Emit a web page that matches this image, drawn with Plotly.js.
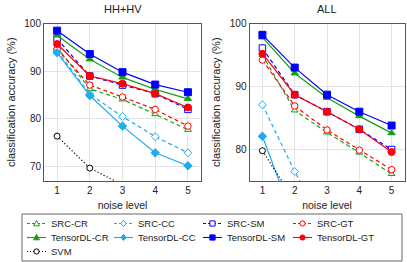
<!DOCTYPE html>
<html>
<head>
<meta charset="utf-8">
<script src="https://cdn.plot.ly/plotly-3.0.1.min.js"></script>
<style>html,body{margin:0;padding:0;background:#fff;}#chart{width:407px;height:262px;}</style>
</head>
<body>
<div id="chart"></div>
<script>
// ---- data ----
const noise = [1, 2, 3, 4, 5];
const seriesNames = ["SRC-CR", "SRC-CC", "SRC-SM", "SRC-GT", "TensorDL-CR", "TensorDL-CC", "TensorDL-SM", "TensorDL-GT", "SVM"];
// HH+HV panel
const srcCR_hh = [95.0, 86.3, 84.1, 81.0, 77.7];
const srcCC_hh = [94.3, 85.2, 80.5, 76.3, 72.9];
const srcSM_hh = [96.8, 89.0, 87.1, 85.3, 82.0];
const srcGT_hh = [94.6, 87.1, 84.6, 82.0, 78.5];
const tdlCR_hh = [97.5, 92.5, 88.7, 86.2, 84.2];
const tdlCC_hh = [93.9, 84.9, 78.5, 72.9, 70.2];
const tdlSM_hh = [98.5, 93.6, 89.8, 87.2, 85.6];
const tdlGT_hh = [95.7, 89.0, 87.4, 85.3, 82.4];
const svm_hh   = [76.4, 69.7, 66.2, 63.5, 61.0];
// ALL panel
const srcCR_all = [95.0, 86.2, 82.7, 79.5, 76.1];
const srcCC_all = [87.1, 76.5, 67.0, 63.0, 60.0];
const srcSM_all = [96.1, 88.7, 86.0, 83.2, 80.0];
const srcGT_all = [94.2, 86.9, 83.1, 79.9, 76.8];
const tdlCR_all = [97.8, 92.1, 88.2, 85.3, 82.6];
const tdlCC_all = [82.1, 68.4, 63.0, 58.0, 55.0];
const tdlSM_all = [98.2, 93.0, 88.7, 86.0, 83.8];
const tdlGT_all = [95.2, 88.7, 86.0, 83.2, 79.6];
const svm_all   = [79.8, 71.8, 67.0, 63.0, 60.0];

const hhData  = [srcCR_hh, srcCC_hh, srcSM_hh, srcGT_hh, tdlCR_hh, tdlCC_hh, tdlSM_hh, tdlGT_hh, svm_hh];
const allData = [srcCR_all, srcCC_all, srcSM_all, srcGT_all, tdlCR_all, tdlCC_all, tdlSM_all, tdlGT_all, svm_all];

// ---- styles ----
const GREEN = "#14a014", CYAN = "#22aaee", BLUE = "#0000ff", RED = "#ff0000", BLACK = "#000000";
const colors  = [GREEN, CYAN, BLUE, RED, GREEN, CYAN, BLUE, RED, BLACK];
const symbols = ["triangle-up", "diamond", "square", "circle", "triangle-up", "diamond", "square", "circle", "circle"];
const filled  = [false, false, false, false, true, true, true, true, false];
const dashes  = ["4px,3px", "4px,3px", "4px,3px", "4px,3px", "solid", "solid", "solid", "solid", "1.2px,2.2px"];
const sizes   = [6, 6, 6.5, 6.5, 6.5, 6.5, 7, 7, 6];

const FONT = "Liberation Sans, Arial, sans-serif";
const traces = [];
function addPanel(data, xa, ya) {
  data.forEach((ys, i) => {
    traces.push({
      x: noise, y: ys, xaxis: xa, yaxis: ya, type: "scatter", mode: "lines+markers",
      name: seriesNames[i], showlegend: false, cliponaxis: true,
      line: {color: colors[i], width: 1.2, dash: dashes[i]},
      marker: {symbol: symbols[i], size: sizes[i], color: filled[i] ? colors[i] : "#ffffff",
               line: {color: colors[i], width: 1}}
    });
  });
}
addPanel(hhData, "x", "y");
addPanel(allData, "x2", "y2");

// ---- custom legend (decoration) ----
const W = 407, H = 262;
const px = v => v / W, py = v => 1 - v / H;
const shapes = [{type: "rect", xref: "paper", yref: "paper", x0: px(22), x1: px(402), y0: py(214), y1: py(261),
                 line: {color: "#666", width: 1}, fillcolor: "rgba(0,0,0,0)"}];
const annotations = [];
const colX = [49, 136, 225, 315];
const rowY = [223.5, 237.5, 251.5];
seriesNames.forEach((nm, i) => {
  const tx = colX[i % 4], cy = rowY[Math.floor(i / 4)];
  const dashMap = {"4px,3px": "dash", "solid": "solid", "1.2px,2.2px": "dot"};
  shapes.push({type: "line", xref: "paper", yref: "paper", x0: px(tx - 22), x1: px(tx - 3), y0: py(cy), y1: py(cy),
               line: {color: colors[i], width: 1.1, dash: dashMap[dashes[i]] === "dash" ? "3px,2px" : (dashMap[dashes[i]] === "dot" ? "1px,2px" : "solid")}});
  const mx = tx - 12.5, r = 2.6;
  const fc = filled[i] ? colors[i] : "#ffffff";
  let shp;
  if (symbols[i] === "circle") {
    shp = {type: "circle", x0: px(mx - r), x1: px(mx + r), y0: py(cy + r), y1: py(cy - r)};
  } else if (symbols[i] === "square") {
    shp = {type: "rect", x0: px(mx - r), x1: px(mx + r), y0: py(cy + r), y1: py(cy - r)};
  } else if (symbols[i] === "diamond") {
    shp = {type: "path", path: `M${px(mx)},${py(cy - r - 0.5)} L${px(mx + r)},${py(cy)} L${px(mx)},${py(cy + r + 0.5)} L${px(mx - r)},${py(cy)} Z`};
  } else {
    shp = {type: "path", path: `M${px(mx)},${py(cy - r - 0.5)} L${px(mx + r + 0.3)},${py(cy + r - 0.3)} L${px(mx - r - 0.3)},${py(cy + r - 0.3)} Z`};
  }
  Object.assign(shp, {xref: "paper", yref: "paper", fillcolor: fc, line: {color: colors[i], width: 1}});
  shapes.push(shp);
  annotations.push({text: nm, xref: "paper", yref: "paper", x: px(tx), y: py(cy), xanchor: "left", yanchor: "middle",
                    showarrow: false, font: {family: FONT, size: 9.5, color: "#222"}});
});
// subplot titles
annotations.push({text: "HH+HV", xref: "paper", yref: "paper", x: px(122.5), y: py(8.5), xanchor: "center", yanchor: "middle",
                  showarrow: false, font: {family: FONT, size: 11, color: "#222"}});
annotations.push({text: "ALL", xref: "paper", yref: "paper", x: px(327), y: py(8.5), xanchor: "center", yanchor: "middle",
                  showarrow: false, font: {family: FONT, size: 11, color: "#222"}});

const tickFont = {family: FONT, size: 10, color: "#222"};
function xAxis(dom) {
  return {domain: dom, range: [0.6, 5.4], tickvals: noise, ticktext: noise.map(String), tickfont: tickFont,
          showgrid: true, gridcolor: "#e3e3e3", gridwidth: 1, zeroline: false,
          showline: true, mirror: true, linecolor: "#555", linewidth: 1, ticks: "", ticklen: 0,
          title: {text: "noise level", font: {family: FONT, size: 10.5, color: "#222"}, standoff: 6}, fixedrange: true};
}
function yAxis(range, tv, anchor) {
  return {domain: [0.3092, 0.9103], range: range, tickvals: tv, tickfont: tickFont, anchor: anchor,
          showgrid: true, gridcolor: "#e3e3e3", gridwidth: 1, zeroline: false,
          showline: true, mirror: true, linecolor: "#555", linewidth: 1, ticks: "", ticklen: 0,
          title: {text: "classification accuracy (%)", font: {family: FONT, size: 11, color: "#222"}, standoff: 6}, fixedrange: true};
}
const layout = {
  width: W, height: H, autosize: false, margin: {l: 0, r: 0, t: 0, b: 0},
  paper_bgcolor: "#fff", plot_bgcolor: "#fff", showlegend: false,
  xaxis: xAxis([44 / W, 201 / W]), yaxis: yAxis([67, 100], [70, 80, 90, 100], "x"),
  xaxis2: Object.assign(xAxis([249.5 / W, 404.5 / W]), {anchor: "y2"}),
  yaxis2: yAxis([75, 100], [80, 90, 100], "x2"),
  shapes: shapes, annotations: annotations
};
layout.xaxis.anchor = "y";
Plotly.newPlot("chart", traces, layout, {staticPlot: true, displayModeBar: false});
</script>
</body>
</html>
